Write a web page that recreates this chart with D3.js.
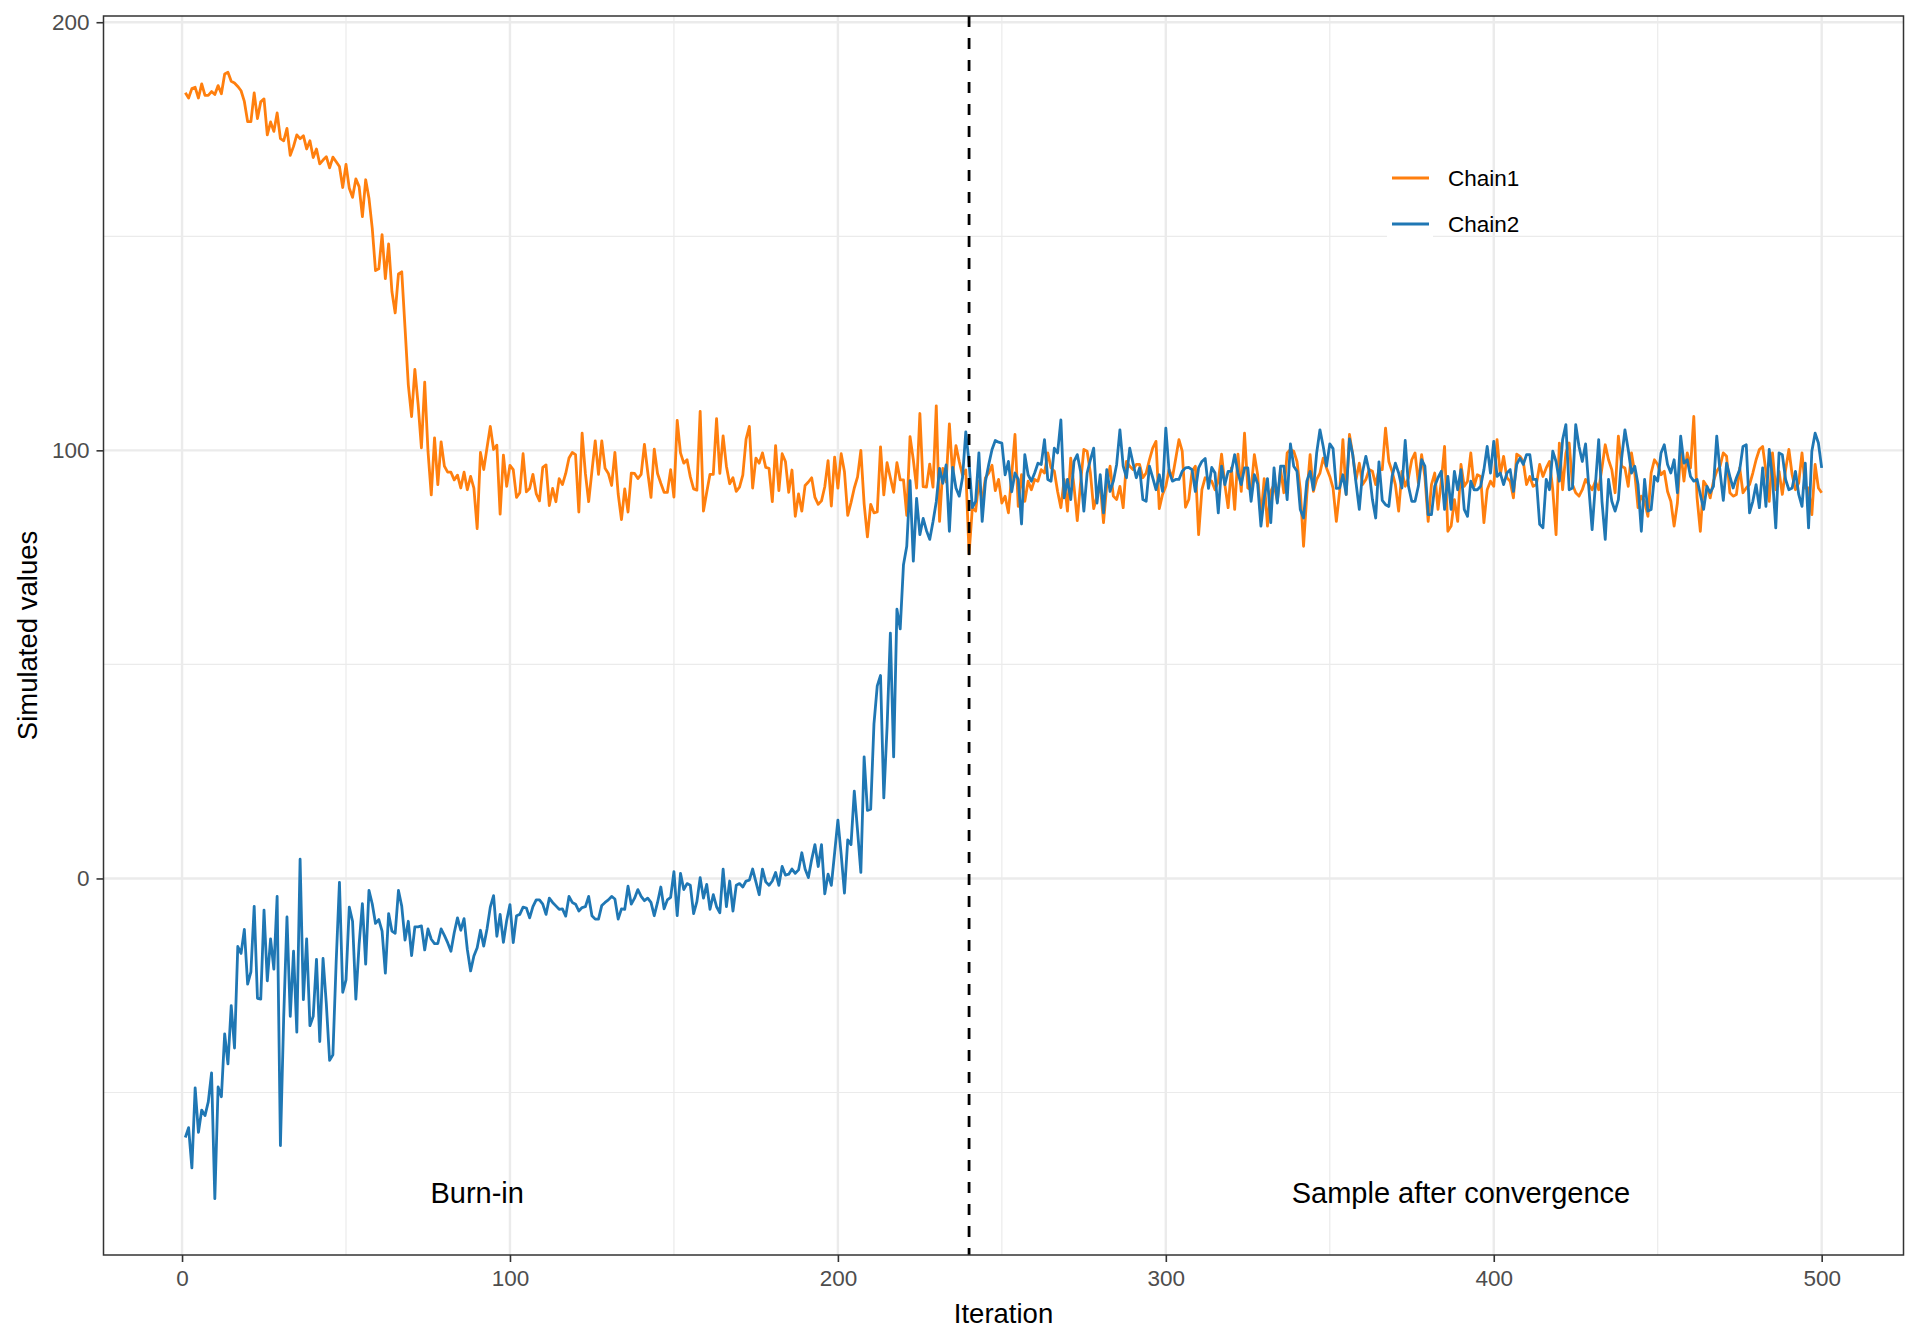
<!DOCTYPE html>
<html>
<head>
<meta charset="utf-8">
<script src="https://cdn.jsdelivr.net/npm/d3@7"></script>
<style>
  html, body { margin: 0; padding: 0; background: #ffffff; }
  svg { display: block; }
  text { font-family: "Liberation Sans", Arial, Helvetica, sans-serif; }
</style>
</head>
<body>
<svg id="chart" width="1920" height="1344"></svg>
<script>
// ---------------- DATA ----------------
const chain1 = [
183.5,182.3,184.5,184.8,182.3,185.6,182.9,182.9,183.8,183.1,
185.2,183.3,187.9,188.3,186.2,185.8,185.0,184.0,181.5,176.8,
176.8,183.5,177.5,181.4,182.1,173.7,176.7,174.5,178.8,172.8,
172.3,175.2,168.9,171.0,173.7,172.8,173.5,170.4,172.3,168.4,
170.4,166.9,167.8,168.6,166.0,168.5,167.4,166.3,161.4,166.8,
161.2,159.1,163.4,161.6,154.6,163.2,158.9,151.9,142.0,142.4,
150.4,140.1,148.2,137.1,132.1,141.2,141.7,128.6,115.3,107.9,
118.9,110.7,100.6,115.9,99.8,89.6,102.9,92.0,102.0,96.3,
94.9,94.9,93.1,94.2,91.2,94.9,90.8,93.9,91.2,81.7,
99.5,95.5,100.6,105.6,100.2,101.2,85.1,98.9,91.6,96.5,
95.5,89.0,90.1,99.2,90.3,91.1,
94.4,89.9,88.2,96.0,96.6,87.1,91.1,88.0,93.4,92.0,
94.6,98.2,99.5,99.0,85.6,104.0,94.6,88.0,95.2,102.2,
94.4,102.2,95.8,94.6,91.8,99.5,89.8,83.8,91.0,85.6,
94.7,94.6,93.4,94.4,101.4,95.0,89.0,100.3,94.6,92.3,
90.2,90.2,95.5,89.1,107.0,99.4,97.0,97.8,93.8,91.0,
90.7,109.1,85.8,90.2,94.4,94.4,107.4,94.6,103.4,96.3,
92.2,93.6,90.4,91.4,94.2,102.6,105.6,91.2,98.2,97.0,
99.4,96.0,95.8,88.0,101.1,90.6,99.2,97.4,90.2,95.4,
84.6,89.8,85.8,91.8,92.6,93.6,89.0,87.4,88.2,91.5,
97.6,87.0,98.4,91.2,99.2,95.0,84.8,87.8,91.2,93.8,
100.0,87.5,79.8,87.4,85.4,85.6,100.8,89.6,97.1,93.6,
90.2,97.1,93.1,93.1,84.8,103.2,97.8,91.2,108.6,91.5,
91.4,96.8,91.4,110.4,83.4,95.8,92.6,106.2,94.2,101.1,
97.4,94.2,95.4,75.8,
86.6,85.8,92.8,88.1,93.6,94.7,96.5,90.6,93.2,87.7,
89.3,85.4,94.3,103.7,86.9,94.3,88.1,92.8,90.8,93.2,
92.8,95.5,94.7,99.4,95.9,95.1,90.4,86.6,93.2,85.8,
98.2,91.6,83.6,92.4,100.2,99.8,94.7,86.4,89.3,92.0,
83.1,92.0,96.3,89.3,88.5,91.6,86.6,97.4,96.3,95.5,
96.7,96.7,93.6,94.7,97.8,100.5,102.1,86.4,89.7,91.6,
95.5,93.6,98.0,
102.5,99.8,86.7,88.5,95.1,96.3,80.3,90.8,93.6,93.2,
92.8,90.8,92.8,99.1,92.0,86.6,95.9,86.2,99.1,90.4,
104.0,91.2,90.8,99.0,94.3,84.2,93.4,82.3,90.4,92.0,
88.1,95.5,90.1,99.4,100.2,99.8,97.4,90.8,77.6,89.7,
99.0,90.4,93.2,94.7,98.2,95.9,93.9,91.2,83.4,90.4,
102.5,89.7,103.7,99.0,93.2,97.0,92.0,93.2,95.5,95.1,
92.0,95.5,95.5,105.2,
97.4,95.1,92.0,85.8,95.1,91.6,93.6,97.8,99.4,92.4,
99.0,93.9,83.4,92.0,94.7,86.2,92.8,100.9,81.1,82.3,
88.5,83.4,96.7,91.6,92.8,99.4,91.6,94.3,93.9,83.1,
90.8,92.8,91.6,102.5,94.3,98.6,93.6,92.8,88.9,99.1,
98.6,97.4,92.0,93.9,91.6,92.0,96.7,93.9,95.9,97.4,
90.8,80.3,101.7,90.8,99.4,101.7,92.0,90.1,89.3,90.8,
93.2,92.0,90.8,
92.8,90.8,95.9,101.3,97.8,95.5,90.1,103.3,96.3,95.9,
91.6,99.4,94.7,86.6,89.3,88.1,84.6,94.7,97.8,96.7,
94.3,95.1,90.4,88.1,82.3,87.7,99.8,92.8,99.4,95.9,
107.9,88.9,81.1,92.8,91.6,88.9,92.8,95.1,96.3,99.4,
98.6,90.1,89.3,89.7,95.9,90.1,91.2,92.0,94.7,97.8,
100.2,100.9,95.1,88.1,99.4,90.8,95.1,89.7,95.5,100.2,
94.3,90.8,92.4,99.4,91.2,91.2,85.0,96.7,91.2,90.1
];

const chain2 = [
-60.5,-58.2,-67.6,-48.9,-59.3,-54.1,-55.4,-52.2,-45.4,-74.8,
-48.7,-51.0,-36.3,-43.3,-29.7,-39.6,-15.9,-17.5,-11.9,-24.7,
-21.8,-6.5,-28.0,-28.2,-7.4,-23.9,-14.1,-21.2,-4.2,-62.4,
-32.4,-9.0,-32.2,-17.0,-35.9,4.5,-28.3,-14.1,-34.4,-32.2,
-18.9,-38.1,-18.7,-29.3,-42.5,-41.2,-19.5,-0.9,-26.6,-23.7,
-6.7,-10.0,-28.2,-15.4,-5.9,-20.0,-2.8,-5.9,-10.5,-9.6,
-12.3,-22.1,-8.2,-12.3,-12.8,-2.8,-6.5,-14.4,-10.0,-18.0,
-11.3,-11.3,-11.1,-16.7,-11.8,-14.2,-15.2,-15.2,-11.8,-13.3,
-15.0,-17.0,-12.7,-9.2,-12.1,-9.4,-16.6,-21.6,-18.1,-16.2,
-12.1,-15.8,-11.8,-6.7,-4.0,-13.5,-8.4,-14.9,-9.8,-6.1,
-15.0,-8.7,-8.4,-6.7,-6.9,-9.2,
-6.6,-5.0,-5.0,-6.0,-8.4,-4.6,-5.6,-6.4,-7.2,-7.1,
-8.8,-4.2,-5.6,-6.0,-7.6,-6.8,-6.6,-4.2,-8.7,-9.5,
-9.5,-6.3,-5.6,-5.0,-4.2,-4.8,-9.5,-7.1,-7.2,-1.8,
-6.0,-4.6,-2.6,-4.2,-5.2,-4.6,-5.6,-8.7,-5.6,-2.0,
-7.1,-5.0,-4.4,1.6,-8.7,1.2,-2.6,-1.2,-1.6,-8.2,
-5.4,0.2,-4.6,-1.4,-7.2,-3.8,-6.6,-8.0,2.2,-6.6,
-0.6,-7.6,-1.6,-1.2,-2.0,-0.6,-0.4,2.2,-0.8,-3.8,
2.2,-0.8,-1.6,-0.6,1.4,-1.6,2.8,0.8,1.0,2.2,
1.2,2.0,6.0,2.2,0.2,4.4,7.9,2.8,7.9,-3.6,
1.0,-1.6,6.0,13.6,5.6,-3.4,9.0,7.9,20.4,11.1,
1.4,28.4,15.9,16.2,36.1,45.0,47.4,18.8,35.4,57.3,
28.4,62.9,58.3,73.3,77.6,92.9,74.1,88.8,80.3,84.1,
81.3,79.2,83.3,88.0,95.8,92.3,96.6,81.1,96.0,91.2,
89.3,93.6,104.3,97.1,
86.6,88.1,99.4,83.4,92.8,96.7,100.2,102.3,101.9,101.7,
94.3,97.4,90.3,94.7,93.2,82.8,99.0,94.3,92.8,94.7,
97.0,96.7,102.5,93.2,92.8,100.5,99.4,107.1,88.9,93.2,
88.5,97.4,99.0,95.1,85.8,94.7,97.8,100.5,87.7,94.3,
85.4,95.5,90.4,92.8,96.7,104.8,96.3,93.6,100.5,97.0,
93.6,95.9,88.5,88.1,96.3,93.6,90.8,94.3,90.4,105.2,
95.1,92.8,93.2,
93.2,95.1,95.9,96.0,95.5,90.4,95.9,97.4,98.1,91.1,
96.0,94.7,85.4,96.3,92.0,95.1,95.1,99.0,94.7,92.0,
95.9,95.9,88.1,94.3,92.2,82.3,88.9,93.4,83.1,95.9,
87.7,96.3,96.3,88.5,101.5,96.3,95.1,86.2,84.2,92.8,
95.1,90.8,99.4,104.8,100.9,96.3,101.5,100.4,91.1,91.2,
94.3,89.7,102.7,99.0,92.4,86.2,95.0,98.6,95.1,88.5,
84.2,97.3,88.3,87.3,
86.9,93.9,97.0,94.7,91.2,102.3,91.6,88.1,88.1,91.6,
97.8,96.3,85.0,85.0,91.6,93.6,95.1,86.2,93.9,86.2,
95.1,90.8,95.5,86.2,84.6,92.8,90.8,90.8,91.6,95.5,100.9,
94.7,102.1,93.9,94.7,92.0,94.7,95.5,90.4,96.7,98.2,
96.7,99.0,99.0,93.2,93.2,82.7,81.9,93.2,90.8,99.8,
97.4,92.8,102.5,106.0,90.8,91.2,106.0,100.9,97.4,101.5,
91.2,
81.5,92.0,102.5,88.1,79.2,93.2,88.1,85.8,88.5,98.2,
104.8,100.2,94.7,96.3,92.0,81.1,93.2,85.8,86.2,93.9,
92.8,99.4,101.3,96.7,94.7,97.8,90.1,103.3,97.0,97.8,
93.9,92.8,93.2,89.7,86.2,91.6,90.1,91.6,103.3,95.1,
88.3,97.0,93.9,91.2,93.6,95.5,100.9,101.3,85.4,88.1,
92.0,86.6,95.9,86.9,100.2,93.6,81.9,99.4,99.0,93.2,
90.8,91.2,95.1,89.7,86.9,97.0,81.9,99.8,104.0,101.7,
95.9
];

const seriesNames = ["Chain1", "Chain2"];
const seriesColors = ["#ff7f0e", "#1f77b4"];
const xTicks = [0, 100, 200, 300, 400, 500];
const xMinor = [50, 150, 250, 350, 450];
const yTicks = [0, 100, 200];
const yMinor = [-50, 50, 150];
const burnIn = 240;
const annotations = [
  { x: 90, y: -73.5, label: "Burn-in" },
  { x: 390, y: -73.5, label: "Sample after convergence" }
];
const xTitle = "Iteration";
const yTitle = "Simulated values";

// ---------------- LAYOUT ----------------
const W = 1920, H = 1344;
const panel = { left: 103.5, right: 1903.5, top: 16, bottom: 1255 };

const svg = d3.select("#chart");

const n = Math.max(chain1.length, chain2.length);
const xMin = 1, xMax = n;
const xPad = (xMax - xMin) * 0.05;
const x = d3.scaleLinear()
  .domain([xMin - xPad, xMax + xPad])
  .range([panel.left, panel.right]);

const allVals = chain1.concat(chain2);
const yLo = d3.min(allVals), yHi = d3.max(allVals);
const yPad = (yHi - yLo) * 0.05;
const y = d3.scaleLinear()
  .domain([yLo - yPad, yHi + yPad])
  .range([panel.bottom, panel.top]);

// background
svg.append("rect").attr("x", 0).attr("y", 0).attr("width", W).attr("height", H).attr("fill", "#ffffff");

// grid
const grid = svg.append("g");
grid.selectAll("line.xminor").data(xMinor).join("line")
  .attr("x1", d => x(d)).attr("x2", d => x(d))
  .attr("y1", panel.top).attr("y2", panel.bottom)
  .attr("stroke", "#ebebeb").attr("stroke-width", 1.2);
grid.selectAll("line.yminor").data(yMinor).join("line")
  .attr("y1", d => y(d)).attr("y2", d => y(d))
  .attr("x1", panel.left).attr("x2", panel.right)
  .attr("stroke", "#ebebeb").attr("stroke-width", 1.2);
grid.selectAll("line.xmajor").data(xTicks).join("line")
  .attr("x1", d => x(d)).attr("x2", d => x(d))
  .attr("y1", panel.top).attr("y2", panel.bottom)
  .attr("stroke", "#ebebeb").attr("stroke-width", 2.4);
grid.selectAll("line.ymajor").data(yTicks).join("line")
  .attr("y1", d => y(d)).attr("y2", d => y(d))
  .attr("x1", panel.left).attr("x2", panel.right)
  .attr("stroke", "#ebebeb").attr("stroke-width", 2.4);

// clip
svg.append("clipPath").attr("id", "clip")
  .append("rect").attr("x", panel.left).attr("y", panel.top)
  .attr("width", panel.right - panel.left).attr("height", panel.bottom - panel.top);

// lines
const line = d3.line().x((d, i) => x(i + 1)).y(d => y(d));
const plot = svg.append("g").attr("clip-path", "url(#clip)");
[chain1, chain2].forEach((s, k) => {
  plot.append("path").datum(s)
    .attr("fill", "none")
    .attr("stroke", seriesColors[k])
    .attr("stroke-width", 2.8)
    .attr("stroke-linejoin", "round")
    .attr("stroke-linecap", "butt")
    .attr("d", line);
});

// dashed vertical line
plot.append("line")
  .attr("x1", x(burnIn)).attr("x2", x(burnIn))
  .attr("y1", panel.top).attr("y2", panel.bottom)
  .attr("stroke", "#000000").attr("stroke-width", 2.8)
  .attr("stroke-dasharray", "11,11");

// annotations
svg.selectAll("text.annot").data(annotations).join("text")
  .attr("class", "annot")
  .attr("x", d => x(d.x)).attr("y", d => y(d.y))
  .attr("dy", "0.35em")
  .attr("text-anchor", "middle")
  .attr("font-size", 29)
  .attr("fill", "#000000")
  .text(d => d.label);

// panel border
svg.append("rect")
  .attr("x", panel.left).attr("y", panel.top)
  .attr("width", panel.right - panel.left).attr("height", panel.bottom - panel.top)
  .attr("fill", "none").attr("stroke", "#333333").attr("stroke-width", 1.5);

// axes
const xAxis = d3.axisBottom(x).tickValues(xTicks).tickSize(7).tickPadding(8).tickFormat(d3.format("d"));
const gx = svg.append("g").attr("transform", `translate(0,${panel.bottom})`).call(xAxis);
gx.select(".domain").remove();
gx.selectAll(".tick line").attr("stroke", "#333333").attr("stroke-width", 1.6);
gx.selectAll(".tick text").attr("font-size", 22.5).attr("fill", "#4d4d4d")
  .attr("font-family", "Liberation Sans, Arial, sans-serif");

const yAxis = d3.axisLeft(y).tickValues(yTicks).tickSize(7).tickPadding(7).tickFormat(d3.format("d"));
const gy = svg.append("g").attr("transform", `translate(${panel.left},0)`).call(yAxis);
gy.select(".domain").remove();
gy.selectAll(".tick line").attr("stroke", "#333333").attr("stroke-width", 1.6);
gy.selectAll(".tick text").attr("font-size", 22.5).attr("fill", "#4d4d4d")
  .attr("font-family", "Liberation Sans, Arial, sans-serif");

// axis titles
svg.append("text")
  .attr("x", (panel.left + panel.right) / 2).attr("y", 1313)
  .attr("dy", "0.35em").attr("text-anchor", "middle")
  .attr("font-size", 27.5).attr("fill", "#000000")
  .text(xTitle);
svg.append("text")
  .attr("transform", `translate(27,${(panel.top + panel.bottom) / 2}) rotate(-90)`)
  .attr("dy", "0.35em").attr("text-anchor", "middle")
  .attr("font-size", 27.5).attr("fill", "#000000")
  .text(yTitle);

// legend
const legend = svg.append("g");
const keyX = 1387, keyY0 = 155, keySize = 46;
seriesNames.forEach((name, k) => {
  const ky = keyY0 + k * keySize;
  legend.append("rect").attr("x", keyX).attr("y", ky)
    .attr("width", keySize).attr("height", keySize).attr("fill", "#ffffff");
  legend.append("line")
    .attr("x1", keyX + 5).attr("x2", keyX + keySize - 4)
    .attr("y1", ky + keySize / 2).attr("y2", ky + keySize / 2)
    .attr("stroke", seriesColors[k]).attr("stroke-width", 2.8);
  legend.append("text")
    .attr("x", 1448).attr("y", ky + keySize / 2)
    .attr("dy", "0.35em")
    .attr("font-size", 22.5).attr("fill", "#000000")
    .text(name);
});
</script>
</body>
</html>
